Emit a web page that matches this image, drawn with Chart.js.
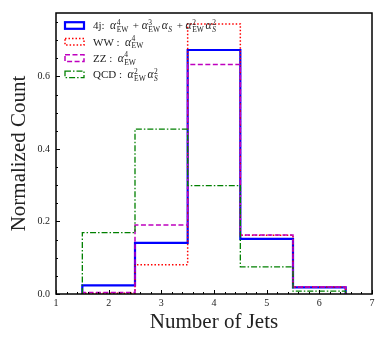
<!DOCTYPE html>
<html>
<head>
<meta charset="utf-8">
<script src="https://cdn.jsdelivr.net/npm/chart.js@4"></script>
<style>
  html, body { margin: 0; padding: 0; background: #fff; }
  #wrap { width: 389px; height: 346px; }
</style>
</head>
<body>
<div id="wrap"><canvas id="jets"></canvas></div>
<script>
// bin edges (number of jets), histogram heights per bin
var binEdges = [1.5, 2.5, 3.5, 4.5, 5.5, 6.5];
var fourJ = [0.024, 0.141, 0.673, 0.152, 0.018];
var ww    = [0.002, 0.081, 0.745, 0.162, 0.019];
var zz    = [0.004, 0.190, 0.633, 0.163, 0.019];
var qcd   = [0.169, 0.455, 0.299, 0.075, 0.008];

var xTicks = [1, 2, 3, 4, 5, 6, 7];
var yTicks = [0.0, 0.2, 0.4, 0.6];
var xMin = 1, xMax = 7, yMin = 0, yMax = 0.775;

// legend text: [base, superscript, subscript, italic subscript?]
var legendLabels = [
  [['4j:  '], ['α', '4', 'EW'], [' + '], ['α', '3', 'EW'], ['α', '', 'S', true], [' + '], ['α', '2', 'EW'], ['α', '2', 'S', true]],
  [['WW :  '], ['α', '4', 'EW']],
  [['ZZ :  '], ['α', '4', 'EW']],
  [['QCD :  '], ['α', '2', 'EW'], ['α', '2', 'S', true]]
];

var serif = '"Liberation Serif", "DejaVu Serif", serif';

// outline of a step histogram, built from the bin edges and heights
function outline(vals) {
  var pts = [{x: binEdges[0], y: 0}];
  for (var i = 0; i < vals.length; i++) {
    pts.push({x: binEdges[i], y: vals[i]});
    pts.push({x: binEdges[i + 1], y: vals[i]});
  }
  pts.push({x: binEdges[binEdges.length - 1], y: 0});
  return pts;
}

function series(data, color, width, dash, order) {
  return {
    data: outline(data),
    borderColor: color,
    borderWidth: width,
    borderDash: dash,
    backgroundColor: 'transparent',
    fill: false,
    pointRadius: 0,
    tension: 0,
    order: order
  };
}

var frameAndTicks = {
  id: 'frameAndTicks',
  afterDatasetsDraw: function(chart) {
    var ctx = chart.ctx, a = chart.chartArea;
    var x = chart.scales.x, y = chart.scales.y;
    ctx.save();
    ctx.strokeStyle = '#000';
    ctx.lineWidth = 1;
    ctx.beginPath();
    // x ticks every 0.2, majors on integers
    for (var i = 0; i <= (xMax - xMin) * 5; i++) {
      var px = Math.round(x.getPixelForValue(xMin + i * 0.2)) + 0.5;
      var len = (i % 5 === 0) ? 4 : 2;
      ctx.moveTo(px, a.bottom);
      ctx.lineTo(px, a.bottom - len);
    }
    // y ticks every 0.05, majors every 0.2
    for (var j = 0; j * 0.05 <= yMax + 1e-9; j++) {
      var py = Math.round(y.getPixelForValue(j * 0.05)) + 0.5;
      var l = (j % 4 === 0) ? 4 : 2;
      ctx.moveTo(a.left, py);
      ctx.lineTo(a.left + l, py);
    }
    ctx.stroke();
    ctx.lineWidth = 1.5;
    ctx.strokeRect(a.left, a.top, a.right - a.left, a.bottom - a.top);
    ctx.restore();
  }
};

var mathLegend = {
  id: 'mathLegend',
  afterDatasetsDraw: function(chart) {
    var ctx = chart.ctx;
    var sets = chart.data.datasets;
    ctx.save();
    ctx.textBaseline = 'alphabetic';
    for (var r = 0; r < legendLabels.length; r++) {
      var ds = sets[r];
      var cy = 25.5 + r * 16.3;
      ctx.strokeStyle = ds.borderColor;
      ctx.lineWidth = ds.borderWidth;
      ctx.setLineDash(ds.borderDash || []);
      ctx.strokeRect(65, cy - 3.3, 19, 6.6);
      ctx.setLineDash([]);
      ctx.fillStyle = '#222';
      var tx = 93, base = cy + 3.8;
      legendLabels[r].forEach(function(tok) {
        if (tok.length === 1) {
          ctx.font = '11px ' + serif;
          ctx.fillText(tok[0], tx, base);
          tx += ctx.measureText(tok[0]).width;
          return;
        }
        ctx.font = 'italic 11.5px ' + serif;
        ctx.fillText(tok[0], tx, base);
        tx += ctx.measureText(tok[0]).width + 0.5;
        var w = 0;
        if (tok[1]) {
          ctx.font = '7.5px ' + serif;
          ctx.fillText(tok[1], tx, base - 4.6);
          w = ctx.measureText(tok[1]).width;
        }
        if (tok[2]) {
          ctx.font = (tok[3] ? 'italic ' : '') + '7.5px ' + serif;
          ctx.fillText(tok[2], tx, base + 2.7);
          w = Math.max(w, ctx.measureText(tok[2]).width);
        }
        tx += w + 1.8;
      });
    }
    ctx.restore();
  }
};

new Chart(document.getElementById('jets'), {
  type: 'line',
  data: {
    datasets: [
      series(fourJ, '#0000ff', 2.2, [], 4),
      series(ww, '#ff0000', 1.5, [1.5, 2], 3),
      series(zz, '#bf00bf', 1.5, [5, 2.5], 2),
      series(qcd, '#008000', 1.3, [6, 2, 1.5, 2], 1)
    ]
  },
  options: {
    responsive: true,
    maintainAspectRatio: false,
    animation: false,
    layout: { padding: { top: 13, right: 17, left: 0, bottom: 0 } },
    plugins: { legend: { display: false }, tooltip: { enabled: false } },
    scales: {
      x: {
        type: 'linear',
        min: xMin,
        max: xMax,
        grid: { display: false, drawTicks: false },
        border: { display: false },
        afterBuildTicks: function(s) { s.ticks = xTicks.map(function(v) { return {value: v}; }); },
        afterFit: function(s) { s.height = 52; },
        ticks: {
          padding: 3,
          color: '#222',
          font: { family: serif, size: 10 },
          maxRotation: 0,
          callback: function(v) { return String(v); }
        },
        title: {
          display: true,
          text: 'Number of Jets',
          color: '#222',
          font: { family: serif, size: 21 },
          padding: { top: 0, bottom: 11 }
        }
      },
      y: {
        type: 'linear',
        min: yMin,
        max: yMax,
        grid: { display: false, drawTicks: false },
        border: { display: false },
        afterBuildTicks: function(s) { s.ticks = yTicks.map(function(v) { return {value: v}; }); },
        afterFit: function(s) { s.width = 56; },
        ticks: {
          padding: 6,
          color: '#222',
          font: { family: serif, size: 10 },
          callback: function(v) { return Number(v).toFixed(1); }
        },
        title: {
          display: true,
          text: 'Normalized Count',
          color: '#222',
          font: { family: serif, size: 21 },
          padding: { top: 7, bottom: 0 }
        }
      }
    }
  },
  plugins: [frameAndTicks, mathLegend]
});
</script>
</body>
</html>
